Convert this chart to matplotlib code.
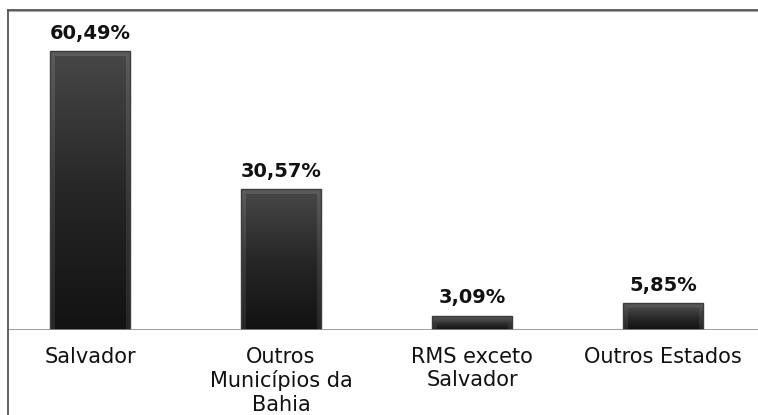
import matplotlib
matplotlib.use("Agg")
import matplotlib.pyplot as plt
import numpy as np
from matplotlib.lines import Line2D
from matplotlib.colors import LinearSegmentedColormap

categories = ["Salvador", "Outros\nMunicípios da\nBahia", "RMS exceto\nSalvador", "Outros Estados"]
values = [60.49, 30.57, 3.09, 5.85]
value_labels = ["60,49%", "30,57%", "3,09%", "5,85%"]

W, H = 758, 415
fig = plt.figure(figsize=(W / 100, H / 100), dpi=100)
fig.patch.set_facecolor("white")

# axes: left 8px, right 758px, top 10px, bottom 330px
ax = fig.add_axes([8 / W, 1 - 330 / H, 750 / W, 320 / H])
ax.set_xlim(-0.429, 3.497)
ax.set_ylim(0, 69.4)
ax.axis("off")

x = np.arange(len(categories))
bars = ax.bar(x, values, width=0.42, color="#222222", edgecolor="none", zorder=2)

# pixel -> data unit sizes
px_x = (3.497 + 0.429) / 750
px_y = 69.4 / 320

grad = np.linspace(0, 1, 256).reshape(-1, 1)
outer_cmap = LinearSegmentedColormap.from_list("o", ["#5c5c5c", "#3a3a3a", "#262626"])
inner_cmap = LinearSegmentedColormap.from_list("i", ["#464646", "#262626", "#121212"])
for b in bars:
    bx, by = b.get_x(), b.get_y()
    bw, bh = b.get_width(), b.get_height()
    im = ax.imshow(grad, aspect="auto", cmap=outer_cmap, origin="upper",
                   extent=(bx, bx + bw, by, by + bh), zorder=3)
    im.set_clip_path(b)
    ix = 5 * px_x
    iy = 5 * px_y
    inner = plt.Rectangle((bx + ix, by), bw - 2 * ix, max(bh - iy, 0),
                          facecolor="none", edgecolor="none", zorder=4)
    ax.add_patch(inner)
    im2 = ax.imshow(grad, aspect="auto", cmap=inner_cmap, origin="upper",
                    extent=(bx + ix, bx + bw - ix, by, by + bh - iy), zorder=4)
    im2.set_clip_path(inner)
    ax.add_patch(plt.Rectangle((bx, by), bw, bh, fill=False, edgecolor="#3c3c3c",
                               linewidth=1.0, zorder=5))

for xi, v, lab in zip(x, values, value_labels):
    ax.annotate(lab, (xi, v), xytext=(0, 6), textcoords="offset points",
                ha="center", va="bottom", fontsize=14, fontweight="bold",
                color="#111111", family="DejaVu Sans")

# baseline
ax.axhline(0, color="#8c8c8c", linewidth=1.2, zorder=6)

for xi, c in zip(x, categories):
    ax.annotate(c, (xi, 0), xytext=(0, -12), textcoords="offset points",
                ha="center", va="top", fontsize=15, color="#111111",
                linespacing=1.22, family="DejaVu Sans")

# frame: top and left borders
fig.add_artist(Line2D([8 / W, 1], [1 - 10 / H, 1 - 10 / H], transform=fig.transFigure,
                      color="#555555", linewidth=2.0))
fig.add_artist(Line2D([8 / W, 1], [1 - 11.5 / H, 1 - 11.5 / H], transform=fig.transFigure,
                      color="#aaaaaa", linewidth=0.8))
fig.add_artist(Line2D([8 / W, 8 / W], [0, 1 - 10 / H], transform=fig.transFigure,
                      color="#555555", linewidth=1.3))

fig.savefig("out.png", dpi=100, facecolor="white")
